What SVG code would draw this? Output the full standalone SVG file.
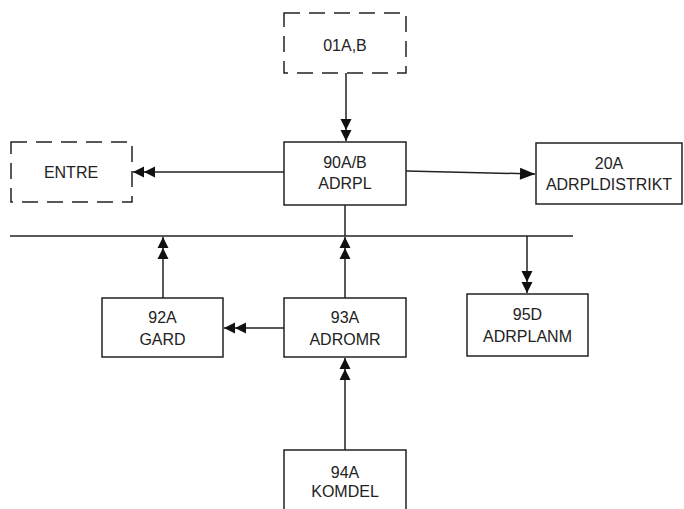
<svg xmlns="http://www.w3.org/2000/svg" width="684" height="509" viewBox="0 0 684 509">
<style>
.box{fill:#fff;stroke:#222;stroke-width:1.5}
.dash{fill:none;stroke:#222;stroke-width:1.5;stroke-dasharray:16 9}
.ln{fill:none;stroke:#222;stroke-width:1.5}
.a2{marker-end:url(#dbl)}
.a1{marker-end:url(#sgl)}
text{font-family:"Liberation Sans",Arial,sans-serif;font-size:16px;fill:#222;text-anchor:middle}
</style>
<defs>
<marker id="dbl" markerUnits="userSpaceOnUse" viewBox="-26 -7 27 14" refX="0" refY="0" markerWidth="27" markerHeight="14" orient="auto" overflow="visible">
<path d="M0,0 L-11,-5.5 L-11,5.5 Z M-11,0 L-22,-5.5 L-22,5.5 Z" fill="#111"/>
</marker>
<marker id="sgl" markerUnits="userSpaceOnUse" viewBox="-17 -7 18 14" refX="0" refY="0" markerWidth="18" markerHeight="14" orient="auto" overflow="visible">
<path d="M0,0 L-15,-6 L-15,6 Z" fill="#111"/>
</marker>
</defs>
<g id="connectors">
<line class="ln a2" x1="346" y1="73" x2="346" y2="141"/>
<line class="ln a2" x1="284" y1="172" x2="133" y2="172"/>
<line class="ln a1" x1="406" y1="171" x2="535" y2="174"/>
<line class="ln" x1="345" y1="205" x2="345" y2="236"/>
<line class="ln" x1="10" y1="236" x2="573" y2="236"/>
<line class="ln a2" x1="163" y1="298" x2="163" y2="237"/>
<line class="ln a2" x1="345" y1="298" x2="345" y2="237"/>
<line class="ln a2" x1="284" y1="328" x2="224" y2="328"/>
<line class="ln a2" x1="527" y1="236" x2="527" y2="293"/>
<line class="ln a2" x1="345" y1="450" x2="345" y2="358"/>
</g>
<g id="n01AB">
<rect class="dash" x="284" y="13" width="122" height="60"/>
<text x="345" y="51">01A,B</text>
</g>
<g id="nENTRE">
<rect class="dash" x="11" y="142" width="121" height="60"/>
<text x="71" y="178">ENTRE</text>
</g>
<g id="n90AB">
<rect class="box" x="284" y="142" width="122" height="63"/>
<text x="345" y="168">90A/B</text>
<text x="345" y="189">ADRPL</text>
</g>
<g id="n20A">
<rect class="box" x="536" y="143" width="146" height="61"/>
<text x="609" y="169">20A</text>
<text x="609" y="190">ADRPLDISTRIKT</text>
</g>
<g id="n92A">
<rect class="box" x="102" y="298" width="121" height="59"/>
<text x="162.5" y="323">92A</text>
<text x="162.5" y="345">GARD</text>
</g>
<g id="n93A">
<rect class="box" x="284" y="298" width="122" height="59"/>
<text x="345" y="323">93A</text>
<text x="345" y="345">ADROMR</text>
</g>
<g id="n95D">
<rect class="box" x="467" y="294" width="121" height="62"/>
<text x="527.5" y="320">95D</text>
<text x="527.5" y="342">ADRPLANM</text>
</g>
<g id="n94A">
<rect class="box" x="284" y="450" width="122" height="70"/>
<text x="345" y="478">94A</text>
<text x="345" y="497">KOMDEL</text>
</g>
</svg>
